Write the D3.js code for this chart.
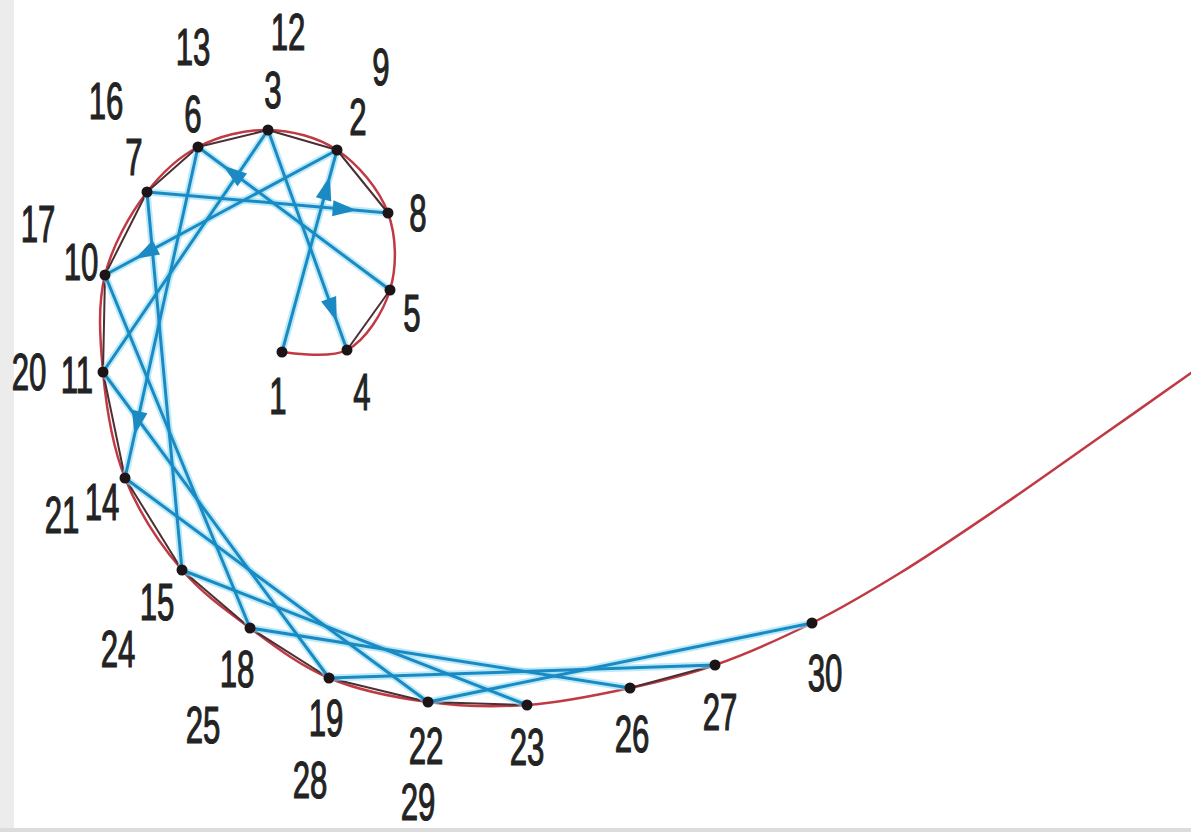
<!DOCTYPE html>
<html>
<head>
<meta charset="utf-8">
<script src="https://cdn.jsdelivr.net/npm/d3@7"></script>
<style>
  html, body { margin: 0; padding: 0; background: #fff; }
  svg { display: block; }
  .lbl { font-family: "Liberation Sans", Arial, sans-serif; font-size: 52px; fill: #232323; stroke: #232323; stroke-width: 1.2px; }
</style>
</head>
<body>
<div id="chart"></div>
<script>
var width = 1191;
var height = 832;

//Points on the red curve, in curve order (x right, y up, units)
var curveX = [28.2, 34.7, 39.0, 38.8, 33.7, 26.8, 19.8, 14.7, 10.5, 10.3, 12.5, 18.2, 25.0, 32.9, 42.8, 52.7, 63.0, 71.5, 81.2];
var curveY = [48.0, 48.2, 54.2, 61.9, 68.2, 70.2, 68.5, 64.0, 55.7, 46.0, 35.4, 26.2, 20.4, 15.4, 13.0, 12.7, 14.4, 16.7, 20.9];

//Curve keeps going after the last point
var tailX = [90.0, 100.0, 110.0, 119.1, 121.0];
var tailY = [25.9, 32.5, 39.5, 45.9, 47.3];

//Step number 1..30 -> index of the point on the curve it stands on
var stepPoint = [0, 4, 5, 1, 2, 6, 7, 3, 4, 8, 9, 5, 6, 10, 11, 7, 8, 12, 13, 9, 10, 14, 15, 11, 12, 16, 17, 13, 14, 18];

//Where each step number is written (units)
var labelX = [27.8, 35.8, 27.3, 36.2, 41.2, 19.3, 13.4, 41.8, 38.1, 8.1, 7.7, 28.8, 19.3, 10.2, 15.7, 10.6, 3.8, 23.7, 32.6, 2.9, 6.2, 42.6, 52.7, 11.8, 20.3, 63.2, 72.0, 31.0, 41.8, 82.5];
var labelY = [43.6, 71.5, 74.2, 44.0, 51.9, 71.8, 67.5, 61.9, 76.5, 57.0, 45.7, 80.0, 78.5, 33.0, 23.0, 73.1, 60.8, 16.3, 11.4, 46.0, 31.7, 8.6, 8.5, 18.3, 10.7, 9.8, 12.0, 5.2, 3.0, 15.9];

//Steps whose incoming segment carries an arrowhead
var arrowSteps = [2, 4, 6, 8, 10, 14];

var x = d3.scaleLinear().domain([0, 119.1]).range([0, width]);
var y = d3.scaleLinear().domain([0, 83.2]).range([height, 0]);

var svg = d3.select("#chart").append("svg")
    .attr("width", width)
    .attr("height", height);

//Scanned page edges
svg.append("rect").attr("x", 0).attr("y", 0).attr("width", 14).attr("height", height).attr("fill", "#ececec");
svg.append("rect").attr("x", 0).attr("y", height - 4).attr("width", width).attr("height", 4).attr("fill", "#dcdcdc");

var curvePts = curveX.map(function (d, i) { return [d, curveY[i]]; })
    .concat(tailX.map(function (d, i) { return [d, tailY[i]]; }));

var line = d3.line()
    .x(function (d) { return x(d[0]); })
    .y(function (d) { return y(d[1]); })
    .curve(d3.curveCatmullRom.alpha(0.5));

svg.append("path")
    .datum(curvePts)
    .attr("d", line)
    .attr("fill", "none")
    .attr("stroke", "#c03a44")
    .attr("stroke-width", 2.5);

//Path segments between consecutive steps
var segs = [];
for (var s = 1; s < stepPoint.length; s++) {
    var a = stepPoint[s - 1], b = stepPoint[s];
    segs.push({
        step: s + 1,
        x1: curveX[a], y1: curveY[a],
        x2: curveX[b], y2: curveY[b],
        short: Math.abs(a - b) === 1
    });
}

var longSegs = segs.filter(function (d) { return !d.short; });
var shortSegs = segs.filter(function (d) { return d.short; });

svg.append("g").selectAll("line")
    .data(shortSegs)
    .enter()
    .append("line")
    .attr("x1", function (d) { return x(d.x1); })
    .attr("y1", function (d) { return y(d.y1); })
    .attr("x2", function (d) { return x(d.x2); })
    .attr("y2", function (d) { return y(d.y2); })
    .attr("stroke", "#4a2f35")
    .attr("stroke-width", 2);

//light glow under the blue lines
svg.append("g").selectAll("line")
    .data(longSegs)
    .enter()
    .append("line")
    .attr("x1", function (d) { return x(d.x1); })
    .attr("y1", function (d) { return y(d.y1); })
    .attr("x2", function (d) { return x(d.x2); })
    .attr("y2", function (d) { return y(d.y2); })
    .attr("stroke", "#8fdcf5")
    .attr("stroke-opacity", 0.6)
    .attr("stroke-width", 7);

svg.append("g").selectAll("line")
    .data(longSegs)
    .enter()
    .append("line")
    .attr("x1", function (d) { return x(d.x1); })
    .attr("y1", function (d) { return y(d.y1); })
    .attr("x2", function (d) { return x(d.x2); })
    .attr("y2", function (d) { return y(d.y2); })
    .attr("stroke", "#1b8ac2")
    .attr("stroke-width", 3);

//Arrowheads
function arrowPath(d) {
    var X1 = x(d.x1), Y1 = y(d.y1), X2 = x(d.x2), Y2 = y(d.y2);
    var dx = X2 - X1, dy = Y2 - Y1;
    var len = Math.sqrt(dx * dx + dy * dy);
    var ux = dx / len, uy = dy / len;
    var tipX = X1 + dx * 0.87, tipY = Y1 + dy * 0.87;
    var bx = tipX - ux * 24, by = tipY - uy * 24;
    var px = -uy * 8, py = ux * 8;
    return "M" + tipX + "," + tipY + "L" + (bx + px) + "," + (by + py) + "L" + (bx - px) + "," + (by - py) + "Z";
}

svg.append("g").selectAll("path")
    .data(segs.filter(function (d) { return arrowSteps.indexOf(d.step) >= 0; }))
    .enter()
    .append("path")
    .attr("d", arrowPath)
    .attr("fill", "#1b8ac2");

//Black dots
svg.append("g").selectAll("circle")
    .data(curveX)
    .enter()
    .append("circle")
    .attr("cx", function (d) { return x(d); })
    .attr("cy", function (d, i) { return y(curveY[i]); })
    .attr("r", 5.5)
    .attr("fill", "#1c1416");

//Step numbers
svg.append("g").selectAll("text")
    .data(labelX)
    .enter()
    .append("text")
    .attr("class", "lbl")
    .attr("text-anchor", "middle")
    .attr("dominant-baseline", "central")
    .attr("transform", function (d, i) { return "translate(" + x(d) + "," + y(labelY[i]) + ") scale(0.6,1)"; })
    .text(function (d, i) { return i + 1; });
</script>
</body>
</html>
